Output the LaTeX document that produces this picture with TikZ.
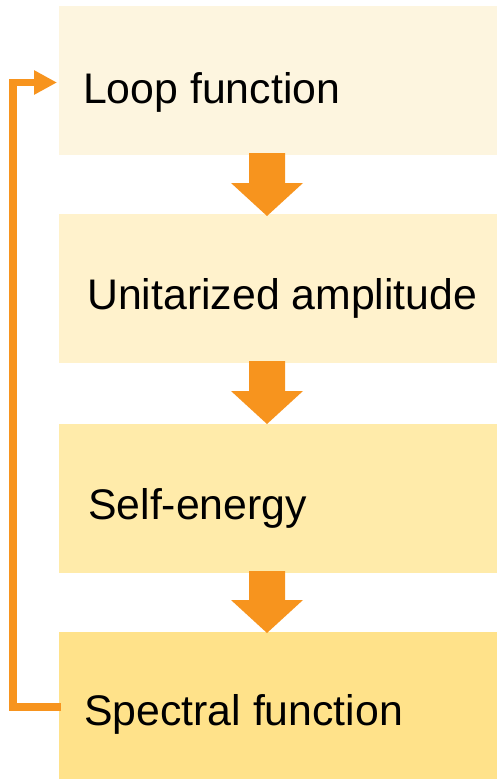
\documentclass[tikz,border=0pt]{standalone}
\usepackage{fontspec}
\setmainfont{Liberation Sans}
\usepackage{tikz}
\usetikzlibrary{positioning, arrows.meta, calc}
\definecolor{stepA}{RGB}{253,245,223}
\definecolor{stepB}{RGB}{255,242,204}
\definecolor{stepC}{RGB}{255,235,170}
\definecolor{stepD}{RGB}{255,226,138}
\definecolor{flow}{RGB}{247,148,30}

\begin{document}
\begin{tikzpicture}[
  x=1pt, y=-1pt,
  stepbox/.style={draw=none, inner sep=0pt, minimum width=438pt, minimum height=149pt},
  steptext/.style={anchor=base west, inner sep=0pt, font=\fontsize{42.8}{50}\selectfont}
]
\useasboundingbox (0,0) rectangle (497,779);
% the four stages
\node[stepbox, fill=stepA] (loop) at (278,80) {};
\node[stepbox, fill=stepB] (amp)  at (278,288.5) {};
\node[stepbox, fill=stepC] (self) at (278,498.5) {};
\node[stepbox, fill=stepD] (spec) at (278,706.5) {};
\node[steptext] (loopT) at (83,103) {Loop function};
\node[steptext] (ampT)  at (87,309) {Unitarized amplitude};
\node[steptext] (selfT) at (88,519) {Self-energy};
\node[steptext] (specT) at (84,725) {Spectral function};
% block arrows between stages
\def\flowarrow#1#2{%
  \fill[flow] (249,#1) -- (285,#1) -- (285,#2-33) -- (303,#2-33) -- (267,#2)
    -- (231,#2-33) -- (249,#2-33) -- cycle;
}
\flowarrow{153}{216}
\flowarrow{361}{424}
\flowarrow{571}{633}
% feedback from the last stage back to the first
\coordinate (fbA) at (61,707);
\coordinate (fbB) at (13,82.5);
\coordinate (fbC) at (57,82.5);
\draw[flow, line width=7.5pt, -{Triangle[length=23pt, width=23pt]}]
  (fbA) -| (fbB) -- (fbC);
\end{tikzpicture}
\end{document}
